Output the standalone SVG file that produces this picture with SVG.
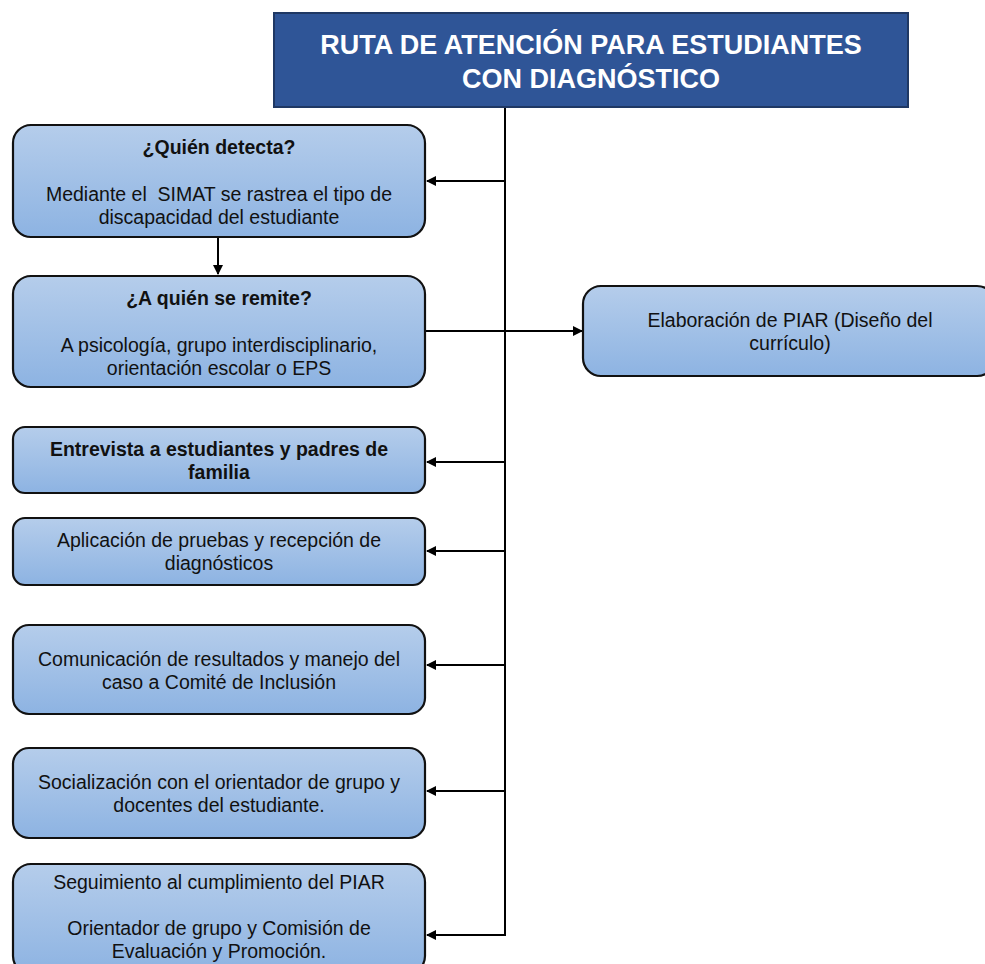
<svg xmlns="http://www.w3.org/2000/svg" width="985" height="964" viewBox="0 0 985 964">
<defs>
<linearGradient id="g" x1="0" y1="0" x2="0" y2="1">
<stop offset="0" stop-color="#B5CDEB"/>
<stop offset="1" stop-color="#8DB3E2"/>
</linearGradient>
<marker id="ah" viewBox="0 0 10 10" refX="9" refY="5" markerWidth="10" markerHeight="10" markerUnits="userSpaceOnUse" orient="auto">
<path d="M0,0 L10,5 L0,10 z" fill="#000"/>
</marker>
<style>
.box{fill:url(#g);stroke:#111;stroke-width:2.2}
.t{font-family:"Liberation Sans",Arial,sans-serif;font-size:19.5px;fill:#111;text-anchor:middle}
.b{font-weight:bold}
.title{font-family:"Liberation Sans",Arial,sans-serif;font-size:27px;font-weight:bold;fill:#fff;text-anchor:middle}
.c{stroke:#000;stroke-width:2;fill:none}
</style>
</defs>
<rect width="985" height="964" fill="#fff"/>
<g id="connectors">
<line class="c" x1="505" y1="107" x2="505" y2="936"/>
<line class="c" x1="505" y1="181" x2="427" y2="181" marker-end="url(#ah)"/>
<line class="c" x1="218" y1="237" x2="218" y2="274" marker-end="url(#ah)"/>
<line class="c" x1="425" y1="331" x2="582" y2="331" marker-end="url(#ah)"/>
<line class="c" x1="505" y1="462" x2="427" y2="462" marker-end="url(#ah)"/>
<line class="c" x1="505" y1="551" x2="427" y2="551" marker-end="url(#ah)"/>
<line class="c" x1="505" y1="665" x2="427" y2="665" marker-end="url(#ah)"/>
<line class="c" x1="505" y1="791" x2="427" y2="791" marker-end="url(#ah)"/>
<line class="c" x1="505" y1="935" x2="427" y2="935" marker-end="url(#ah)"/>
</g>
<g id="title">
<rect x="274" y="13" width="634" height="94" fill="#2F5597" stroke="#1F3864" stroke-width="2"/>
<text class="title" x="591" y="54">RUTA DE ATENCIÓN PARA ESTUDIANTES</text>
<text class="title" x="591" y="88">CON DIAGNÓSTICO</text>
</g>
<g id="n1">
<rect class="box" x="13" y="125" width="412" height="112" rx="18"/>
<text class="t b" x="219" y="154">¿Quién detecta?</text>
<text class="t" x="219" y="201" xml:space="preserve">Mediante el  SIMAT se rastrea el tipo de</text>
<text class="t" x="219" y="224">discapacidad del estudiante</text>
</g>
<g id="n2">
<rect class="box" x="13" y="276" width="412" height="111" rx="18"/>
<text class="t b" x="219" y="305">¿A quién se remite?</text>
<text class="t" x="219" y="352">A psicología, grupo interdisciplinario,</text>
<text class="t" x="219" y="375">orientación escolar o EPS</text>
</g>
<g id="n3">
<rect class="box" x="583" y="286" width="412" height="90" rx="18"/>
<text class="t" x="790" y="327">Elaboración de PIAR (Diseño del</text>
<text class="t" x="790" y="350">currículo)</text>
</g>
<g id="n4">
<rect class="box" x="13" y="427" width="412" height="66" rx="12"/>
<text class="t b" x="219" y="456">Entrevista a estudiantes y padres de</text>
<text class="t b" x="219" y="479">familia</text>
</g>
<g id="n5">
<rect class="box" x="13" y="518" width="412" height="67" rx="12"/>
<text class="t" x="219" y="547">Aplicación de pruebas y recepción de</text>
<text class="t" x="219" y="570">diagnósticos</text>
</g>
<g id="n6">
<rect class="box" x="13" y="625" width="412" height="89" rx="16"/>
<text class="t" x="219" y="666">Comunicación de resultados y manejo del</text>
<text class="t" x="219" y="689">caso a Comité de Inclusión</text>
</g>
<g id="n7">
<rect class="box" x="13" y="748" width="412" height="90" rx="16"/>
<text class="t" x="219" y="789">Socialización con el orientador de grupo y</text>
<text class="t" x="219" y="812">docentes del estudiante.</text>
</g>
<g id="n8">
<rect class="box" x="13" y="864" width="412" height="110" rx="18"/>
<text class="t" x="219" y="889">Seguimiento al cumplimiento del PIAR</text>
<text class="t" x="219" y="935">Orientador de grupo y Comisión de</text>
<text class="t" x="219" y="958">Evaluación y Promoción.</text>
</g>
</svg>
